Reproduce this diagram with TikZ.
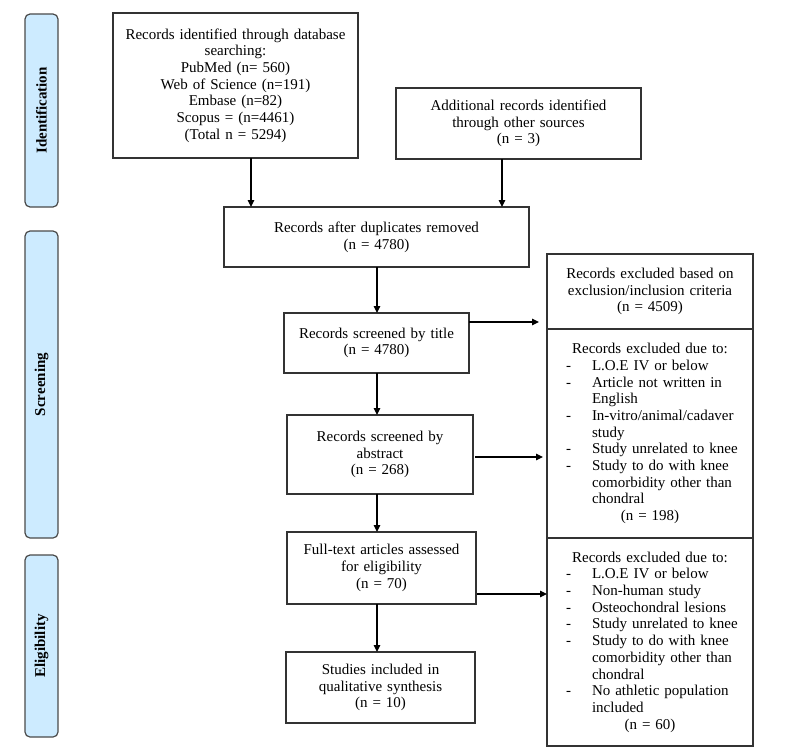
\documentclass[tikz,border=0pt]{standalone}
\usepackage{fontspec}
\setmainfont{Liberation Serif}
\usetikzlibrary{arrows.meta}
\definecolor{barfill}{HTML}{CDEBFF}
\definecolor{barline}{HTML}{4A4A4A}
\definecolor{boxline}{HTML}{333333}
\newcommand\ctrline[1]{\makebox[206pt]{#1}}
\newcommand\dashitem[1]{\hspace*{19pt}\makebox[26pt][l]{-}#1}
\newcommand\contline[1]{\hspace*{45pt}#1}
\begin{document}
\begin{tikzpicture}[x=1pt,y=-1pt,
  box/.style={draw=boxline,line width=1.2pt,inner xsep=0pt,inner ysep=0pt,outer sep=0pt,
    align=center,font=\fontsize{15}{16.7}\selectfont},
  listbox/.style={box,align=left,text width=206pt,minimum height=#1},
  phase/.style={draw=barline,fill=barfill,rounded corners=5pt,line width=1.2pt,rotate=90,
    minimum height=33pt,inner sep=0pt,outer sep=0pt,font=\bfseries\fontsize{15}{18}\selectfont},
  arr/.style={draw=black,line width=1.2pt,-{Triangle[length=7pt,width=6.5pt]}}]
\useasboundingbox (0,0) rectangle (789,749);

% phase bars
\node[phase,minimum width=193pt] (pid) at (41.5,110.5) {Identification};
\node[phase,minimum width=307pt] (pscr) at (41.5,384.5) {Screening};
\node[phase,minimum width=182pt] (pel) at (41.5,646) {Eligibility};

% main boxes
\node[box,text width=245pt,minimum height=145pt] (b1) at (235.5,85.5)
  {Records identified through database\\searching:\\PubMed (n= 560)\\Web of Science (n=191)\\Embase (n=82)\\Scopus = (n=4461)\\(Total n = 5294)};
\node[box,text width=245pt,minimum height=71pt] (b2) at (518.5,123.5)
  {Additional records identified\\through other sources\\(n = 3)};
\node[box,text width=305pt,minimum height=60pt] (b3) at (376.5,237)
  {Records after duplicates removed\\(n = 4780)};
\node[box,text width=185pt,minimum height=60pt] (b4) at (376.5,343)
  {Records screened by title\\(n = 4780)};
\node[box,text width=186pt,minimum height=79pt] (b5) at (380,454.5)
  {Records screened by\\abstract\\(n = 268)};
\node[box,text width=189pt,minimum height=72pt] (b6) at (381.5,568)
  {Full-text articles assessed\\for eligibility\\(n = 70)};
\node[box,text width=189pt,minimum height=71pt] (b7) at (380.5,687.5)
  {Studies included in\\qualitative synthesis\\(n = 10)};

% right boxes
\node[box,text width=206pt,minimum height=75pt] (r1) at (650,291.5)
  {Records excluded based on\\exclusion/inclusion criteria\\(n = 4509)};
\node[listbox=209pt] (r2) at (650,433.5)
  {\ctrline{Records excluded due to:}\\
   \dashitem{L.O.E IV or below}\\
   \dashitem{Article not written in}\\
   \contline{English}\\
   \dashitem{In-vitro/animal/cadaver}\\
   \contline{study}\\
   \dashitem{Study unrelated to knee}\\
   \dashitem{Study to do with knee}\\
   \contline{comorbidity other than}\\
   \contline{chondral}\\
   \ctrline{(n = 198)}};
\node[listbox=208pt] (r3) at (650,642)
  {\ctrline{Records excluded due to:}\\
   \dashitem{L.O.E IV or below}\\
   \dashitem{Non-human study}\\
   \dashitem{Osteochondral lesions}\\
   \dashitem{Study unrelated to knee}\\
   \dashitem{Study to do with knee}\\
   \contline{comorbidity other than}\\
   \contline{chondral}\\
   \dashitem{No athletic population}\\
   \contline{included}\\
   \ctrline{(n = 60)}};

% guide coordinates for connector positions
\coordinate (ax1) at (251,0);
\coordinate (ax2) at (502,0);
\coordinate (ax3) at (377,0);
\coordinate (ay1) at (0,322);
\coordinate (ay2) at (0,457);
\coordinate (ay3) at (0,594);

% vertical connectors
\draw[arr] (b1.south -| ax1) -- (b3.north -| ax1);
\draw[arr] (b2.south -| ax2) -- (b3.north -| ax2);
\draw[arr] (b3.south -| ax3) -- (b4.north -| ax3);
\draw[arr] (b4.south -| ax3) -- (b5.north -| ax3);
\draw[arr] (b5.south -| ax3) -- (b6.north -| ax3);
\draw[arr] (b6.south -| ax3) -- (b7.north -| ax3);

% horizontal connectors
\draw[arr,shorten >=8pt] (b4.east |- ay1) -- (r1.west |- ay1);
\draw[arr,shorten <=2pt,shorten >=4pt] (b5.east |- ay2) -- (r2.west |- ay2);
\draw[arr,shorten <=1pt] (b6.east |- ay3) -- (r3.west |- ay3);
\end{tikzpicture}
\end{document}
